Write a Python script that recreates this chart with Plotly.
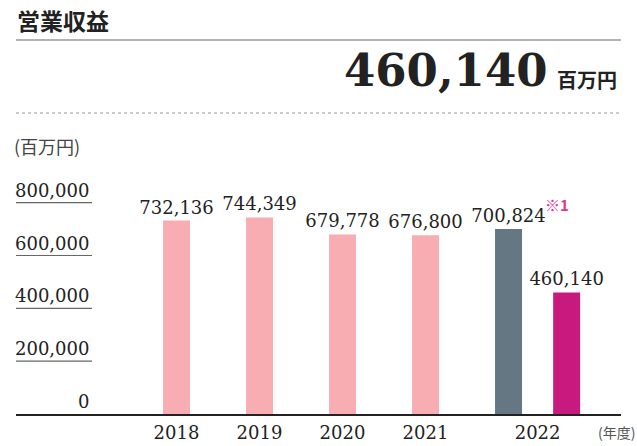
import plotly.graph_objects as go

# ---- data ----
years = ["2018", "2019", "2020", "2021", "2022"]
revenue = [732136, 744349, 679778, 676800, 700824]
revenue_2022_new = 460140
year_unit = "(年度)"
value_unit = "(百万円)"
title = "営業収益"
headline_value = "460,140"
headline_unit = "百万円"
note_mark = "※1"
y_ticks = [0, 200000, 400000, 600000, 800000]

# ---- style ----
W, H = 637, 446
PINK = "#F7ADB2"
GREY = "#647782"
MAGENTA = "#C8197F"
TXT = "#222222"
NUMFONT = "DejaVu Serif"
JPFONT = "Noto Sans CJK JP"

m_l, m_r, m_t, m_b = 16, 16, 150, 32
plot_h = H - m_t - m_b
px_per_unit = 211.3 / 800000
ymax = plot_h / px_per_unit
bar_w = 0.325
new_offset = 0.70

def py(pix):  # pixel y (from top) -> paper y
    return (H - m_b - pix) / plot_h

def px(pix):
    return (pix - m_l) / (W - m_l - m_r)

xs = list(range(len(years)))
fig = go.Figure()
fig.add_trace(go.Bar(
    x=xs, y=revenue, width=bar_w,
    marker=dict(color=[PINK] * (len(years) - 1) + [GREY], line=dict(width=0)),
    text=[f"{v:,}" for v in revenue], textposition="outside",
    textfont=dict(family=NUMFONT, size=18, color=TXT),
    constraintext="none", cliponaxis=False, hoverinfo="skip"))
fig.add_trace(go.Bar(
    x=[xs[-1] + new_offset], y=[revenue_2022_new], width=bar_w,
    marker=dict(color=MAGENTA, line=dict(width=0)),
    text=[f"{revenue_2022_new:,}"], textposition="outside",
    textfont=dict(family=NUMFONT, size=18, color=TXT),
    constraintext="none", cliponaxis=False, hoverinfo="skip"))

tickvals = xs[:-1] + [xs[-1] + new_offset / 2]
fig.update_layout(
    width=W, height=H, margin=dict(l=m_l, r=m_r, t=m_t, b=m_b, autoexpand=False),
    paper_bgcolor="white", plot_bgcolor="white", showlegend=False,
    barmode="overlay",
    xaxis=dict(range=[-1.934, 5.355], tickvals=tickvals, ticktext=years,
               showgrid=False, zeroline=False, showline=True, linecolor=TXT,
               linewidth=2, ticks="", automargin=False, ticklabelstandoff=1,
               tickfont=dict(family=NUMFONT, size=18, color=TXT)),
    yaxis=dict(range=[0, ymax], showgrid=False, zeroline=False, showticklabels=False,
               automargin=False, fixedrange=True),
)

shapes = []
annotations = []
# y tick labels with underlines
for t in y_ticks:
    annotations.append(dict(xref="paper", yref="y", x=px(91), y=t, text=f"{t:,}",
                            xanchor="right", yanchor="bottom", showarrow=False, yshift=0,
                            font=dict(family=NUMFONT, size=18, color=TXT)))
    if t > 0:
        shapes.append(dict(type="line", xref="paper", yref="y", x0=px(16), x1=px(92),
                           y0=t, y1=t, line=dict(color="#666666", width=1.2)))
# title & rules
annotations.append(dict(xref="paper", yref="paper", x=px(15), y=py(20), text=f"<b>{title}</b>",
                        xanchor="left", yanchor="middle", showarrow=False,
                        font=dict(family=JPFONT, size=23, color=TXT)))
shapes.append(dict(type="line", xref="paper", yref="paper", x0=px(16), x1=px(621),
                   y0=py(40), y1=py(40), line=dict(color="#666666", width=1.2)))
annotations.append(dict(xref="paper", yref="paper", x=px(550), y=py(99),
                        text=f"<b>{headline_value}</b>", xanchor="right", yanchor="bottom",
                        showarrow=False, font=dict(family=NUMFONT, size=45, color=TXT)))
annotations.append(dict(xref="paper", yref="paper", x=px(555), y=py(96),
                        text=f"<b>{headline_unit}</b>", xanchor="left", yanchor="bottom",
                        showarrow=False, font=dict(family=JPFONT, size=20, color=TXT)))
shapes.append(dict(type="line", xref="paper", yref="paper", x0=px(16), x1=px(621),
                   y0=py(113), y1=py(113), line=dict(color="#999999", width=1, dash="dot")))
annotations.append(dict(xref="paper", yref="paper", x=px(12), y=py(146), text=value_unit,
                        xanchor="left", yanchor="middle", showarrow=False,
                        font=dict(family=JPFONT, size=18, color="#444444")))
annotations.append(dict(xref="paper", yref="paper", x=px(637), y=py(432), text=year_unit,
                        xanchor="right", yanchor="middle", showarrow=False,
                        font=dict(family=JPFONT, size=14, color="#555555")))
# note mark next to 2022 old-basis label
annotations.append(dict(xref="x", yref="y", x=xs[-1], y=revenue[-1], text=f"<b>{note_mark}</b>",
                        xanchor="left", yanchor="bottom", showarrow=False, xshift=34, yshift=12,
                        font=dict(family=JPFONT, size=15, color="#E0338F")))
fig.update_layout(shapes=shapes, annotations=annotations)
fig.write_html("out.html")
